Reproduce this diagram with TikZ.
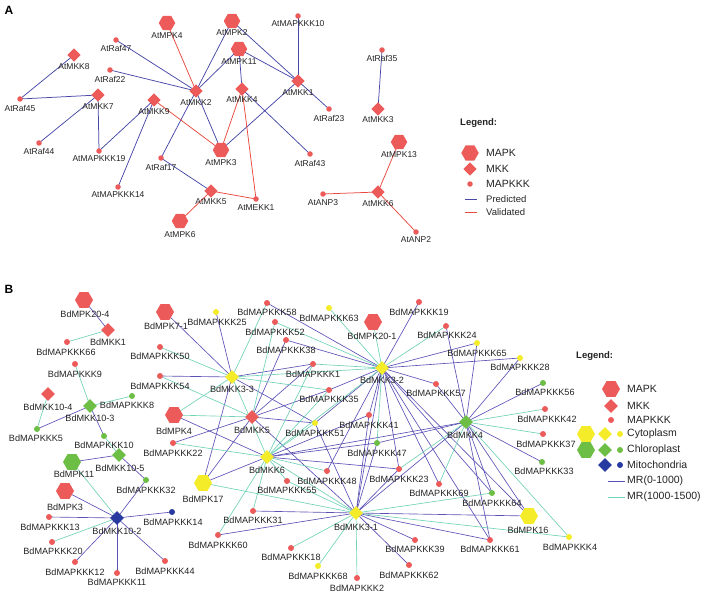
\documentclass[tikz,border=0pt]{standalone}
\usepackage{fontspec}
\setmainfont{Liberation Sans}
\usetikzlibrary{shapes.geometric,backgrounds}
\definecolor{nred}{RGB}{236,90,90}
\definecolor{nyel}{RGB}{244,236,40}
\definecolor{ngrn}{RGB}{108,190,68}
\definecolor{nblu}{RGB}{38,58,160}
\definecolor{eblueA}{RGB}{72,72,168}
\definecolor{eredA}{RGB}{232,72,62}
\definecolor{eblueB}{RGB}{92,82,182}
\definecolor{ecyanB}{RGB}{112,210,182}
\definecolor{labc}{RGB}{35,35,35}
\newcommand\nd[7]{\node[#1] (#2) at (#3,#4) {}; \node[lab] (#2t) at (#6,#7) {#5};}
\begin{document}
\begin{tikzpicture}[x=1pt,y=-1pt,
  hexbase/.style={regular polygon,regular polygon sides=6,inner sep=0,draw=none},
  diabase/.style={diamond,inner sep=0,draw=none},
  dotbase/.style={circle,inner sep=0,draw=none},
  hexA/.style={hexbase,minimum size=16.5pt,fill=nred},
  diaA/.style={diabase,minimum width=13.5pt,minimum height=13.5pt,fill=nred},
  dotA/.style={dotbase,minimum size=5.5pt,fill=nred},
  hexR/.style={hexbase,minimum size=18pt,fill=nred},
  hexY/.style={hexbase,minimum size=18pt,fill=nyel},
  hexG/.style={hexbase,minimum size=18pt,fill=ngrn},
  diaR/.style={diabase,minimum width=14pt,minimum height=14pt,fill=nred},
  diaY/.style={diabase,minimum width=14pt,minimum height=14pt,fill=nyel},
  diaG/.style={diabase,minimum width=14pt,minimum height=14pt,fill=ngrn},
  diaB/.style={diabase,minimum width=14pt,minimum height=14pt,fill=nblu},
  dotR/.style={dotbase,minimum size=6pt,fill=nred},
  dotY/.style={dotbase,minimum size=6pt,fill=nyel},
  dotG/.style={dotbase,minimum size=6pt,fill=ngrn},
  dotB/.style={dotbase,minimum size=6pt,fill=nblu},
  pa/.style={draw=eblueA,line width=0.75pt},
  va/.style={draw=eredA,line width=0.75pt},
  eb/.style={draw=eblueB,line width=0.65pt},
  ec/.style={draw=ecyanB,line width=0.65pt},
  panel/.style={font=\fontsize{12}{14}\selectfont\bfseries,inner sep=0},
  leghead/.style={font=\fontsize{9.5}{11}\selectfont\bfseries,text=labc,inner sep=0,anchor=west},
  legtxt/.style={font=\fontsize{10.5}{12}\selectfont,text=labc,inner sep=0,anchor=west},
  legtxtS/.style={font=\fontsize{9.5}{11}\selectfont,text=labc,inner sep=0,anchor=west}
]
\useasboundingbox (0,0) rectangle (708,604);

%================ Panel A =================
\node[panel] (pA) at (9,10) {A};
\begin{scope}[lab/.style={font=\fontsize{8.5}{9}\selectfont,text=labc,inner sep=0}]
\nd{hexA}{mpk4}{167}{23}{AtMPK4}{167}{36}
\nd{hexA}{mpk2}{232}{21}{AtMPK2}{232}{33}
\nd{hexA}{mpk11}{239}{49}{AtMPK11}{239}{62}
\nd{hexA}{mpk3}{221}{150}{AtMPK3}{221}{163}
\nd{hexA}{mpk6}{180}{221}{AtMPK6}{180}{235}
\nd{hexA}{mpk13}{399}{142}{AtMPK13}{399}{155}
\nd{diaA}{mkk8}{74}{55}{AtMKK8}{74}{67}
\nd{diaA}{mkk7}{98}{95}{AtMKK7}{98}{107}
\nd{diaA}{mkk9}{154}{100}{AtMKK9}{154}{112}
\nd{diaA}{mkk2}{196}{91}{AtMKK2}{196}{103}
\nd{diaA}{mkk4}{242}{89}{AtMKK4}{242}{100}
\nd{diaA}{mkk1}{298}{81}{AtMKK1}{298}{93}
\nd{diaA}{mkk5}{211}{191}{AtMKK5}{211}{202}
\nd{diaA}{mkk3}{378}{109}{AtMKK3}{378}{120}
\nd{diaA}{mkk6}{378}{192}{AtMKK6}{378}{204}
\nd{dotA}{raf47}{116}{40}{AtRaf47}{116}{48}
\nd{dotA}{raf22}{110}{70}{AtRaf22}{110}{79}
\nd{dotA}{raf45}{20}{99}{AtRaf45}{20}{108}
\nd{dotA}{raf44}{39}{143}{AtRaf44}{39}{151}
\nd{dotA}{kkk19}{99}{151}{AtMAPKKK19}{99}{159}
\nd{dotA}{kkk14}{118}{187}{AtMAPKKK14}{118}{195}
\nd{dotA}{raf17}{161}{158}{AtRaf17}{161}{167}
\nd{dotA}{mekk1}{256}{199}{AtMEKK1}{256}{208}
\nd{dotA}{kkk10}{298}{16}{AtMAPKKK10}{298}{24}
\nd{dotA}{raf23}{329}{109}{AtRaf23}{329}{118}
\nd{dotA}{raf43}{310}{154}{AtRaf43}{310}{163}
\nd{dotA}{raf35}{382}{50}{AtRaf35}{382}{58}
\nd{dotA}{anp3}{323}{194}{AtANP3}{323}{203}
\nd{dotA}{anp2}{416}{232}{AtANP2}{416}{240}
\end{scope}

\begin{pgfonlayer}{background}
\foreach \a/\b in {mkk8/raf45,raf45/mkk7,mkk7/raf44,mkk7/kkk19,mkk9/kkk19,mkk9/kkk14,
  raf47/mkk2,raf22/mkk2,mpk2/mkk2,mpk11/mkk2,mkk2/mpk3,mkk2/raf17,raf17/mkk5,
  mkk4/mpk11,mkk4/raf43,mpk2/mkk1,mpk11/mkk1,kkk10/mkk1,mkk1/raf23,mkk1/mpk3,raf35/mkk3}
  \draw[pa] (\a.center) -- (\b.center);
\foreach \a/\b in {mkk9/mpk3,mpk4/mkk2,mkk5/mpk6,mkk5/mekk1,mekk1/mkk4,mkk4/mpk3,
  mpk13/mkk6,anp3/mkk6,mkk6/anp2}
  \draw[va] (\a.center) -- (\b.center);
\end{pgfonlayer}

% legend A
\node[leghead] (lgA) at (460,123) {Legend:};
\node[hexA,minimum size=17.5pt] (lgAhex) at (470,153) {};
\node[legtxt] (lgAt1) at (486,153) {MAPK};
\node[diaA] (lgAdia) at (470,169) {};
\node[legtxt] (lgAt2) at (486,169) {MKK};
\node[dotA] (lgAdot) at (470,184) {};
\node[legtxt] (lgAt3) at (486,184) {MAPKKK};
\coordinate (lgApa) at (465,199); \coordinate (lgApb) at (477,199);
\draw[pa] (lgApa) -- (lgApb);
\node[legtxtS] (lgAt4) at (486,199) {Predicted};
\coordinate (lgAva) at (465,212); \coordinate (lgAvb) at (477,212);
\draw[va] (lgAva) -- (lgAvb);
\node[legtxtS] (lgAt5) at (486,212) {Validated};

%================ Panel B =================
\node[panel] (pB) at (9,289) {B};
\begin{scope}[lab/.style={font=\fontsize{9.1}{10}\selectfont,text=labc,inner sep=0}]
% hexagons
\nd{hexR}{b204}{84}{300}{BdMPK20-4}{85}{314}
\nd{hexR}{b71}{165}{312}{BdMPK7-1}{166}{326}
\nd{hexR}{b201}{373}{322}{BdMPK20-1}{372}{336}
\nd{hexR}{bmpk4}{174}{415}{BdMPK4}{174}{431}
\nd{hexR}{bmpk3}{65}{491}{BdMPK3}{65}{507}
\nd{hexG}{bmpk11}{72}{462}{BdMPK11}{74}{474}
\nd{hexY}{bmpk17}{203}{483}{BdMPK17}{203}{499}
\nd{hexY}{bmpk16}{529}{516}{BdMPK16}{528}{530}
% diamonds
\nd{diaR}{bmkk1}{108}{330}{BdMKK1}{108}{342}
\nd{diaR}{bmkk104}{48}{394}{BdMKK10-4}{48}{407}
\nd{diaR}{bmkk5}{252}{417}{BdMKK5}{252}{430}
\nd{diaG}{bmkk103}{90}{406}{BdMKK10-3}{90}{418}
\nd{diaG}{bmkk105}{119}{455}{BdMKK10-5}{120}{468}
\nd{diaG}{bmkk4}{466}{422}{BdMKK4}{465}{435}
\nd{diaB}{bmkk102}{117}{518}{BdMKK10-2}{117}{531}
\nd{diaY}{bmkk33}{232}{377}{BdMKK3-3}{232}{389}
\nd{diaY}{bmkk32}{382}{368}{BdMKK3-2}{382}{380}
\nd{diaY}{bmkk6}{267}{457}{BdMKK6}{267}{470}
\nd{diaY}{bmkk31}{356}{513}{BdMKK3-1}{356}{527}
% red dots
\nd{dotR}{k66}{67}{342}{BdMAPKKK66}{66}{352}
\nd{dotR}{k9}{75}{364}{BdMAPKKK9}{75}{374}
\nd{dotR}{k50}{160}{347}{BdMAPKKK50}{160}{356}
\nd{dotR}{k54}{160}{376}{BdMAPKKK54}{160}{386}
\nd{dotR}{k22}{173}{443}{BdMAPKKK22}{173}{453}
\nd{dotR}{k13}{49}{517}{BdMAPKKK13}{50}{527}
\nd{dotR}{k20}{52}{542}{BdMAPKKK20}{53}{551}
\nd{dotR}{k12}{75}{562}{BdMAPKKK12}{75}{572}
\nd{dotR}{k11}{117}{573}{BdMAPKKK11}{117}{582}
\nd{dotR}{k44}{165}{561}{BdMAPKKK44}{165}{571}
\nd{dotR}{k58}{267}{303}{BdMAPKKK58}{267}{312}
\nd{dotR}{k52}{275}{322}{BdMAPKKK52}{275}{332}
\nd{dotR}{k38}{286}{340}{BdMAPKKK38}{286}{350}
\nd{dotR}{k1}{313}{364}{BdMAPKKK1}{313}{374}
\nd{dotR}{k35}{329}{390}{BdMAPKKK35}{329}{399}
\nd{dotR}{k19}{419}{302}{BdMAPKKK19}{419}{312}
\nd{dotR}{k24}{446}{326}{BdMAPKKK24}{447}{335}
\nd{dotR}{k57}{436}{384}{BdMAPKKK57}{436}{393}
\nd{dotR}{k41}{369}{415}{BdMAPKKK41}{369}{425}
\nd{dotR}{k48}{327}{471}{BdMAPKKK48}{327}{481}
\nd{dotR}{k23}{399}{469}{BdMAPKKK23}{399}{479}
\nd{dotR}{k55}{287}{481}{BdMAPKKK55}{287}{490}
\nd{dotR}{k31}{253}{511}{BdMAPKKK31}{253}{520}
\nd{dotR}{k60}{218}{535}{BdMAPKKK60}{218}{545}
\nd{dotR}{k18}{291}{548}{BdMAPKKK18}{291}{557}
\nd{dotR}{k2}{357}{578}{BdMAPKKK2}{357}{588}
\nd{dotR}{k69}{439}{484}{BdMAPKKK69}{439}{493}
\nd{dotR}{k39}{415}{540}{BdMAPKKK39}{415}{549}
\nd{dotR}{k61}{490}{540}{BdMAPKKK61}{490}{549}
\nd{dotR}{k62}{409}{565}{BdMAPKKK62}{409}{575}
\nd{dotR}{k42}{545}{409}{BdMAPKKK42}{547}{419}
\nd{dotR}{k37}{543}{434}{BdMAPKKK37}{546}{444}
% yellow dots
\nd{dotY}{k25}{216}{312}{BdMAPKKK25}{217}{322}
\nd{dotY}{k63}{329}{308}{BdMAPKKK63}{329}{318}
\nd{dotY}{k51}{315}{423}{BdMAPKKK51}{315}{433}
\nd{dotY}{k65}{477}{343}{BdMAPKKK65}{477}{353}
\nd{dotY}{k28}{520}{358}{BdMAPKKK28}{520}{367}
\nd{dotY}{k68}{318}{566}{BdMAPKKK68}{318}{576}
\nd{dotY}{k4}{569}{537}{BdMAPKKK4}{570}{547}
% green dots
\nd{dotG}{k8}{132}{396}{BdMAPKKK8}{127}{405}
\nd{dotG}{k5}{37}{429}{BdMAPKKK5}{36}{438}
\nd{dotG}{k10}{104}{436}{BdMAPKKK10}{104}{445}
\nd{dotG}{k32}{146}{480}{BdMAPKKK32}{146}{490}
\nd{dotG}{k47}{377}{443}{BdMAPKKK47}{377}{453}
\nd{dotG}{k56}{543}{383}{BdMAPKKK56}{545}{392}
\nd{dotG}{k33}{542}{462}{BdMAPKKK33}{544}{471}
\nd{dotG}{k64}{492}{493}{BdMAPKKK64}{492}{503}
% blue dot
\nd{dotB}{k14}{172}{512}{BdMAPKKK14}{173}{522}
\end{scope}

\begin{pgfonlayer}{background}
% MR(0-1000)
\foreach \a/\b in {b204/bmkk1,bmkk103/k10,bmkk103/k5,bmpk11/bmkk105,bmkk105/k32,
  k32/bmkk102,bmpk3/bmkk102,k13/bmkk102,k12/bmkk102,k11/bmkk102,k44/bmkk102,k14/bmkk102,
  bmkk33/b71,bmkk33/k25,bmkk33/k54,bmkk33/bmpk17,bmkk33/k1,bmkk33/k51,
  bmkk5/k22,bmkk5/bmpk17,bmkk5/k38,bmkk5/k1,bmkk5/k35,bmkk5/k51,bmkk5/bmkk31,
  bmkk6/bmpk17,bmkk6/bmpk4,bmkk6/k23,bmkk6/k41,bmkk6/k47,bmkk6/bmkk4,
  bmkk32/k19,bmkk32/k65,bmkk32/k28,bmkk32/k57,bmkk32/k58,bmkk32/k38,bmkk32/k35,
  bmkk32/k51,bmkk32/k41,bmkk32/k23,bmkk32/k48,bmkk32/bmkk31,bmkk32/k69,bmkk32/k64,
  bmkk32/k61,bmkk32/bmpk16,
  bmkk4/k24,bmkk4/k65,bmkk4/k28,bmkk4/k56,bmkk4/k33,bmkk4/k57,bmkk4/bmpk16,bmkk4/k61,
  bmkk4/k64,bmkk4/k47,bmkk4/bmkk31,
  bmkk31/k31,bmkk31/k60,bmkk31/k39,bmkk31/k62,bmkk31/k61,bmkk31/bmpk16,bmkk31/k51,
  bmkk31/k41,bmkk31/k47,bmkk31/k23}
  \draw[eb] (\a.center) -- (\b.center);
% MR(1000-1500)
\foreach \a/\b in {bmkk1/k66,k9/bmkk103,bmkk103/k8,bmkk104/k5,k10/bmkk105,bmpk11/bmkk102,
  k20/bmkk102,
  bmkk33/k50,bmkk33/k58,bmkk33/bmpk4,bmkk33/k35,bmkk33/bmkk32,bmkk33/bmkk6,
  bmkk5/bmpk4,bmkk5/k54,bmkk5/k52,
  bmkk6/k22,bmkk6/k60,bmkk6/k31,bmkk6/k55,bmkk6/k48,bmkk6/bmkk31,bmkk6/k51,
  bmkk6/bmkk32,bmkk6/k35,bmkk6/k1,
  bmkk32/b201,bmkk32/k24,bmkk32/k63,bmkk32/k52,bmkk32/k1,bmkk32/k47,
  bmkk4/k42,bmkk4/k37,bmkk4/k4,bmkk4/k69,bmkk4/k23,
  bmkk31/bmpk17,bmkk31/k18,bmkk31/k68,bmkk31/k2,bmkk31/k4,bmkk31/k64,bmkk31/k55}
  \draw[ec] (\a.center) -- (\b.center);
\end{pgfonlayer}

% legend B
\node[leghead] (lgB) at (576,356) {Legend:};
\node[hexR] (lgBhex) at (611,389) {};
\node[legtxt] (lgBt1) at (627,389) {MAPK};
\node[diaR] (lgBdia) at (611,406) {};
\node[legtxt] (lgBt2) at (627,406) {MKK};
\node[dotR] (lgBdot) at (611,420) {};
\node[legtxt] (lgBt3) at (627,420) {MAPKKK};
\node[hexY] (lgByh) at (586,434) {};
\node[diaY] (lgByd) at (605,434) {};
\node[dotY] (lgByc) at (620,434) {};
\node[legtxt] (lgBt4) at (627,434) {Cytoplasm};
\node[hexG] (lgBgh) at (586,450) {};
\node[diaG] (lgBgd) at (605,450) {};
\node[dotG] (lgBgc) at (620,450) {};
\node[legtxt] (lgBt5) at (627,450) {Chloroplast};
\node[diaB] (lgBbd) at (605,465) {};
\node[dotB] (lgBbc) at (620,465) {};
\node[legtxt] (lgBt6) at (627,465) {Mitochondria};
\coordinate (lgBea) at (608,481); \coordinate (lgBeb) at (625,481);
\draw[eb] (lgBea) -- (lgBeb);
\node[legtxt] (lgBt7) at (627,481) {MR(0-1000)};
\coordinate (lgBca) at (608,497); \coordinate (lgBcb) at (625,497);
\draw[ec] (lgBca) -- (lgBcb);
\node[legtxt] (lgBt8) at (627,497) {MR(1000-1500)};
\end{tikzpicture}
\end{document}
